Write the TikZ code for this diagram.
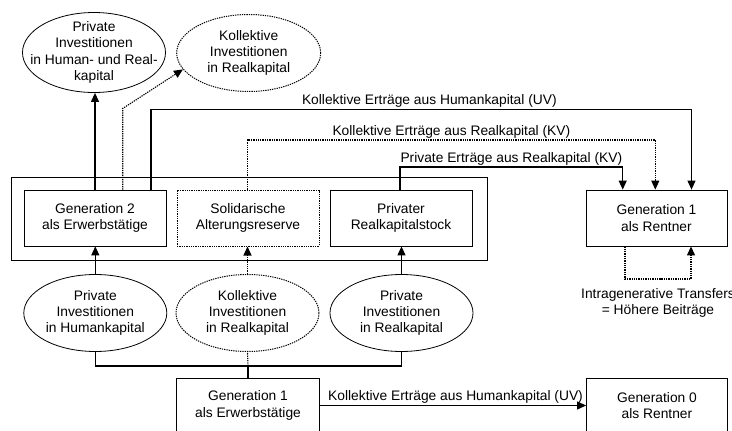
\documentclass[tikz,border=0pt]{standalone}
\usepackage{fontspec}
\setmainfont{Liberation Sans}
\usetikzlibrary{shapes.geometric,arrows.meta,calc}
\begin{document}
\begin{tikzpicture}[x=1pt,y=-1pt,
  font=\fontsize{13.8}{16.2}\selectfont,
  dots/.style={dash pattern=on 1.3pt off 1pt},
  dshape/.style={dots, line width=1pt},
  box/.style={draw, rectangle, line width=0.8pt, minimum width=142pt, minimum height=56pt, inner sep=0pt, align=center},
  ell/.style={draw, ellipse, line width=0.8pt, minimum width=143pt, minimum height=77pt, inner sep=0pt},
  txt/.style={align=center, inner sep=0pt},
  con/.style={line width=1.1pt},
  arr/.style={line width=1.1pt, -{Triangle[width=8pt,length=9pt]}},
  lbl/.style={anchor=base, yshift=5pt, inner sep=0pt}]
\useasboundingbox (0,0) rectangle (732,431);

% group frame
\node[draw, line width=0.8pt, minimum width=475.5pt, minimum height=83pt, inner sep=0pt] (grp) at (249.25,218.5) {};

% top ellipses
\node[ell, minimum height=80pt] (pt) at (94,52.5) {};
\node[txt] (ptt) at (pt.center) {Private\\Investitionen\\in Human- und Real-\\kapital};
\node[ell, dshape, minimum width=144pt] (kt) at (248.7,53) {};
\node[txt] (ktt) at (kt.center) {Kollektive\\Investitionen\\in Realkapital};

% boxes
\node[box] (gen2) at (95,218) {Generation 2\\als Erwerbstätige};
\node[box, dshape] (sol) at (248,218) {Solidarische\\Alterungsreserve};
\node[box] (prk) at (401,218) {Privater\\Realkapitalstock};
\node[box, minimum width=141pt] (g1r) at (656.5,218) {Generation 1\\als Rentner};

% bottom ellipses
\node[ell] (pbh) at (95.3,313) {};
\node[txt] (pbht) at (pbh.center) {Private\\Investitionen\\in Humankapital};
\node[ell, dshape] (kbr) at (247.5,313) {};
\node[txt] (kbrt) at (kbr.center) {Kollektive\\Investitionen\\in Realkapital};
\node[ell] (pbr) at (401.5,313) {};
\node[txt] (pbrt) at (pbr.center) {Private\\Investitionen\\in Realkapital};

% bottom boxes
\node[box, minimum width=142.6pt, minimum height=55pt] (g1e) at (248,405.5) {Generation 1\\als Erwerbstätige};
\node[box, minimum width=141pt, minimum height=55pt] (g0) at (657,405.5) {Generation 0\\als Rentner};

% coordinates
\coordinate (c1) at (122.7,108.5);
\coordinate (c2a) at (151,109.5);
\coordinate (c2b) at (691.5,109.5);
\coordinate (c3a) at (247.5,140);
\coordinate (c3b) at (655.3,140);
\coordinate (c4a) at (400,167);
\coordinate (c4b) at (622.7,167);
\coordinate (j) at (248,366);
\coordinate (ib) at (660,279);

% upward connectors from Generation 2
\draw[arr] (gen2.north) -- (gen2.north |- pt.south);
\draw[arr, dots] (gen2.north -| c1) -- (c1) -- (kt.194);
\draw[arr] (gen2.north -| c2a) -- (c2a) -- node[lbl, pos=0.515] (l1) {Kollektive Erträge aus Humankapital (UV)} (c2b) -- (g1r.north -| c2b);
\draw[arr, dots] (sol.north -| c3a) -- (c3a) -- node[lbl] (l2) {Kollektive Erträge aus Realkapital (KV)} (c3b) -- (g1r.north -| c3b);
\draw[arr] (prk.north -| c4a) -- (c4a) -- node[lbl] (l3) {Private Erträge aus Realkapital (KV)} (c4b) -- (g1r.north -| c4b);

% investments into boxes
\draw[arr] (pbh.north) -- (pbh.north |- gen2.south);
\draw[arr, dots] (kbr.north) -- (kbr.north |- sol.south);
\draw[arr] (pbr.north) -- (pbr.north |- prk.south);

% Generation 1 feeding investments
\draw[con] (g1e.north) -- (j);
\draw[con, dots] (j) -- (kbr.south);
\draw[con] (pbh.south) |- (j) -| (pbr.south);

% bottom transfer
\draw[arr] (g1e.east) -- node[lbl, pos=0.51] (l4) {Kollektive Erträge aus Humankapital (UV)} (g0.west);

% intragenerative loop
\draw[arr, dots] ([xshift=-31.5pt]g1r.south) |- (ib) -| ([xshift=34.5pt]g1r.south);
\node[txt, anchor=north] (itl) at (658,288) {Intragenerative Transfers\\= Höhere Beiträge};
\end{tikzpicture}
\end{document}
